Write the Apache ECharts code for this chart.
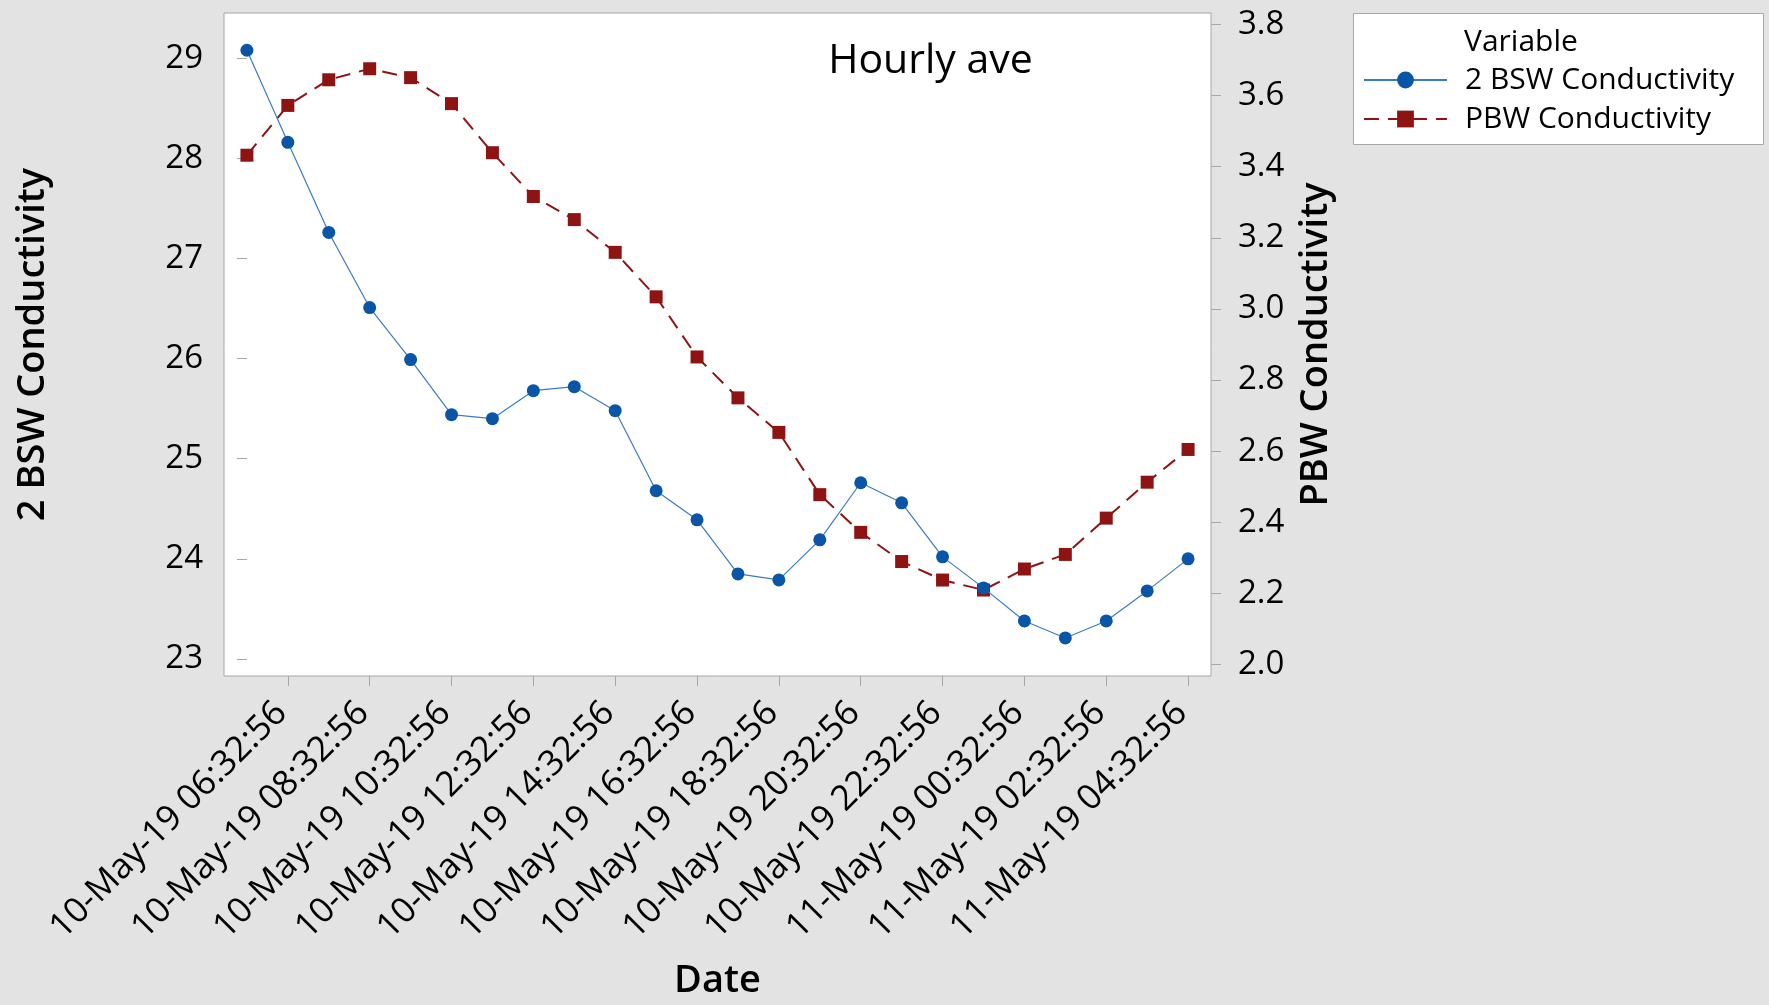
<!DOCTYPE html>
<html>
<head>
<meta charset="utf-8">
<script src="https://cdn.jsdelivr.net/npm/echarts@6/dist/echarts.min.js"></script>
<style>
  html, body { margin: 0; padding: 0; background: #e3e3e3; }
  #chart { width: 1769px; height: 1005px; }
</style>
</head>
<body>
<div id="chart"></div>
<script>
// Hourly timestamps
const dates = [
  '10-May-19 05:32:56', '10-May-19 06:32:56', '10-May-19 07:32:56', '10-May-19 08:32:56',
  '10-May-19 09:32:56', '10-May-19 10:32:56', '10-May-19 11:32:56', '10-May-19 12:32:56',
  '10-May-19 13:32:56', '10-May-19 14:32:56', '10-May-19 15:32:56', '10-May-19 16:32:56',
  '10-May-19 17:32:56', '10-May-19 18:32:56', '10-May-19 19:32:56', '10-May-19 20:32:56',
  '10-May-19 21:32:56', '10-May-19 22:32:56', '10-May-19 23:32:56', '11-May-19 00:32:56',
  '11-May-19 01:32:56', '11-May-19 02:32:56', '11-May-19 03:32:56', '11-May-19 04:32:56'
];

// Hourly averages
const bswConductivity = [
  29.08, 28.16, 27.26, 26.51, 25.99, 25.44, 25.40, 25.68, 25.72, 25.48, 24.68, 24.39,
  23.85, 23.79, 24.19, 24.76, 24.56, 24.02, 23.71, 23.38, 23.21, 23.38, 23.68, 24.00
];
const pbwConductivity = [
  3.432, 3.572, 3.644, 3.675, 3.650, 3.577, 3.439, 3.316, 3.251, 3.159, 3.034, 2.865,
  2.750, 2.653, 2.478, 2.372, 2.290, 2.238, 2.210, 2.269, 2.310, 2.412, 2.513, 2.605
];

// Tick labels
const xTickLabels = [
  '10-May-19 06:32:56', '10-May-19 08:32:56', '10-May-19 10:32:56', '10-May-19 12:32:56',
  '10-May-19 14:32:56', '10-May-19 16:32:56', '10-May-19 18:32:56', '10-May-19 20:32:56',
  '10-May-19 22:32:56', '11-May-19 00:32:56', '11-May-19 02:32:56', '11-May-19 04:32:56'
];
const leftTicks = [23, 24, 25, 26, 27, 28, 29];
const rightTicks = [2.0, 2.2, 2.4, 2.6, 2.8, 3.0, 3.2, 3.4, 3.6, 3.8];

const FONT = '"Open Sans", "Noto Sans", sans-serif';
const AXIS_GREY = '#a6a6a6';
const BLUE = '#0a55a6';
const RED = '#8e1414';

const xTickPos = xTickLabels.map(l => dates.indexOf(l));

const chart = echarts.init(document.getElementById('chart'), null, { renderer: 'canvas' });

const option = {
  backgroundColor: '#e3e3e3',
  animation: false,
  textStyle: { fontFamily: FONT, color: '#000' },
  grid: {
    left: 224, top: 13, right: 558, bottom: 328,
    show: true, backgroundColor: '#ffffff', borderColor: AXIS_GREY, borderWidth: 1
  },
  xAxis: {
    type: 'value', min: -0.56, max: 23.56,
    name: 'Date', nameLocation: 'middle', nameGap: 286,
    nameTextStyle: { fontSize: 38, fontWeight: 600, fontFamily: FONT, color: '#000' },
    axisLine: { show: false },
    axisTick: { show: true, length: 10, customValues: xTickPos, lineStyle: { color: AXIS_GREY } },
    axisLabel: {
      customValues: xTickPos, rotate: 45, align: 'right', verticalAlign: 'bottom',
      lineHeight: 18, margin: 38,
      fontSize: 35, fontFamily: FONT, color: '#000',
      formatter: v => dates[Math.round(v)]
    },
    splitLine: { show: false }
  },
  yAxis: [
    {
      type: 'value', position: 'left', min: 22.83, max: 29.452,
      name: '2 BSW Conductivity', nameLocation: 'middle', nameRotate: 90, nameGap: 172,
      nameTextStyle: { fontSize: 38, fontWeight: 600, fontFamily: FONT, color: '#000' },
      axisLine: { show: false },
      axisTick: { show: true, length: 10, customValues: leftTicks, lineStyle: { color: AXIS_GREY } },
      axisLabel: { customValues: leftTicks, margin: 21, fontSize: 33, fontFamily: FONT, color: '#000' },
      splitLine: { show: false }
    },
    {
      type: 'value', position: 'right', min: 1.9683, max: 3.8317,
      name: 'PBW Conductivity', nameLocation: 'middle', nameRotate: 90, nameGap: 86,
      nameTextStyle: { fontSize: 38, fontWeight: 600, fontFamily: FONT, color: '#000' },
      axisLine: { show: false },
      axisTick: { show: true, length: 10, customValues: rightTicks, lineStyle: { color: AXIS_GREY } },
      axisLabel: {
        customValues: rightTicks, margin: 27, fontSize: 33, fontFamily: FONT, color: '#000',
        formatter: v => v.toFixed(1)
      },
      splitLine: { show: false }
    }
  ],
  legend: {
    orient: 'vertical', left: 1363, top: 65, padding: 0, z: 5,
    itemWidth: 83, itemHeight: 21, itemGap: 9, selectedMode: false,
    textStyle: { fontSize: 30, fontFamily: FONT, color: '#000', padding: [0, 0, 0, 13] },
    data: ['2 BSW Conductivity', 'PBW Conductivity']
  },
  graphic: [
    {
      type: 'rect', x: 1353.5, y: 13.5, z: 1,
      shape: { width: 410, height: 131 },
      style: { fill: '#ffffff', stroke: '#a8a8a8', lineWidth: 1 }
    },
    {
      type: 'text', x: 1464, y: 42, z: 6,
      style: { text: 'Variable', fontSize: 30, fontFamily: FONT, fill: '#000', align: 'left', verticalAlign: 'middle' }
    },
    {
      type: 'text', x: 930.5, y: 61, z: 6,
      style: { text: 'Hourly ave', fontSize: 41, fontFamily: FONT, fill: '#000', align: 'center', verticalAlign: 'middle' }
    }
  ],
  series: [
    {
      name: '2 BSW Conductivity', type: 'line', yAxisIndex: 0,
      data: bswConductivity.map((v, i) => [i, v]),
      symbol: 'circle', symbolSize: 13, showAllSymbol: true,
      itemStyle: { color: BLUE },
      lineStyle: { color: '#3b7bc4', width: 1.2 },
      z: 3
    },
    {
      name: 'PBW Conductivity', type: 'line', yAxisIndex: 1,
      data: pbwConductivity.map((v, i) => [i, v]),
      symbol: 'rect', symbolSize: 13, showAllSymbol: true,
      itemStyle: { color: RED },
      lineStyle: { color: RED, width: 2, type: [15, 9] },
      z: 2
    }
  ]
};

chart.setOption(option);
</script>
</body>
</html>
